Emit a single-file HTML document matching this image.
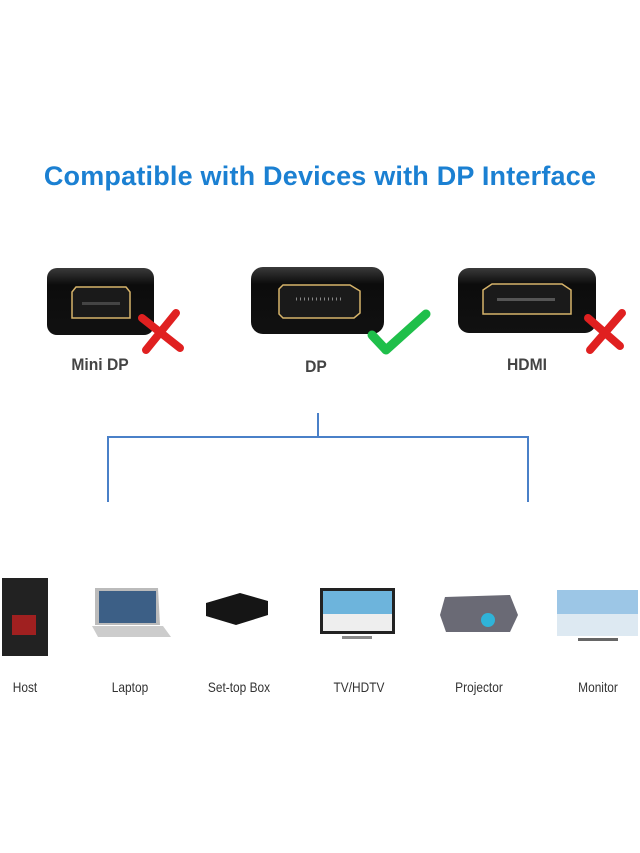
<!DOCTYPE html>
<html><head><meta charset="utf-8"><style>
body{margin:0;width:640px;height:853px;background:#fff;position:relative;overflow:hidden;font-family:"Liberation Sans",sans-serif}
.a{position:absolute}
.t{left:0;width:640px;top:161px;text-align:center;color:#1b80d2;font-weight:bold;font-size:27px;letter-spacing:0.2px}
.lb{font-weight:bold;font-size:17px;color:#444;text-align:center;transform:scaleX(0.92)}
.dl{font-size:14px;color:#333;text-align:center;width:100px;top:679px;transform:scaleX(0.85)}
</style></head><body>
<div class="a t">Compatible with Devices with DP Interface</div>
<svg class="a" style="left:0;top:0" width="640" height="853">
<defs><linearGradient id="g" x1="0" y1="0" x2="0" y2="1"><stop offset="0" stop-color="#3a3a3a"/><stop offset=".25" stop-color="#0c0c0c"/><stop offset="1" stop-color="#111"/></linearGradient></defs>
<rect x="47" y="268" width="107" height="67" rx="10" fill="url(#g)"/>
<path d="M72 292 L76 287 L126 287 L130 292 L130 318 L72 318 Z" fill="#1a1a1a" stroke="#d6b36a" stroke-width="1.5"/>
<rect x="82" y="302" width="38" height="3" fill="#444"/>
<rect x="251" y="267" width="133" height="67" rx="12" fill="url(#g)"/>
<path d="M279 289 L283 285 L350 285 L360 291 L360 313 L354 318 L283 318 L279 314 Z" fill="#1a1a1a" stroke="#d6b36a" stroke-width="1.5"/>
<line x1="296" y1="299" x2="342" y2="299" stroke="#888" stroke-width="3" stroke-dasharray="1 3"/>
<rect x="458" y="268" width="138" height="65" rx="11" fill="url(#g)"/>
<path d="M483 290 L492 284 L562 284 L571 290 L571 314 L483 314 Z" fill="#1a1a1a" stroke="#d6b36a" stroke-width="1.5"/>
<rect x="497" y="298" width="58" height="3" fill="#555"/>
<path d="M142 318 L180 348 M176 313 L146 350" stroke="#e02020" stroke-width="8" stroke-linecap="round"/>
<path d="M588 318 L620 346 M622 313 L590 350" stroke="#e02020" stroke-width="8" stroke-linecap="round"/>
<path d="M372 335 L386 350 L426 314" fill="none" stroke="#1fbf4a" stroke-width="9" stroke-linecap="round" stroke-linejoin="round"/>
<path d="M318 413 V437 M108 502 V437 H528 V502" fill="none" stroke="#4a80c8" stroke-width="2"/>
<rect x="2" y="578" width="46" height="78" fill="#222"/><rect x="12" y="615" width="24" height="20" fill="#a02020"/>
<path d="M95 588 H158 L160 625 H95 Z" fill="#bbb"/><rect x="99" y="591" width="57" height="32" fill="#3c5f86"/>
<path d="M92 626 H163 L171 637 H98 Z" fill="#ccc"/>
<path d="M206 603 L240 593 L268 601 L268 615 L236 625 L206 616 Z" fill="#151515"/>
<rect x="320" y="588" width="75" height="46" fill="#222"/><rect x="323" y="591" width="69" height="40" fill="#6db4dc"/><rect x="323" y="614" width="69" height="17" fill="#eee"/>
<rect x="342" y="636" width="30" height="3" fill="#888"/>
<path d="M445 597 L510 595 L518 615 L510 632 L446 632 L440 615 Z" fill="#6a6a75"/><circle cx="488" cy="620" r="7" fill="#2fb3d8"/>
<rect x="557" y="590" width="81" height="46" fill="#9cc6e6"/><rect x="557" y="614" width="81" height="22" fill="#dde9f2"/>
<rect x="578" y="638" width="40" height="3" fill="#666"/>
</svg>
<div class="a lb" style="left:50px;width:100px;top:355px">Mini DP</div>
<div class="a lb" style="left:266px;width:100px;top:357px">DP</div>
<div class="a lb" style="left:477px;width:100px;top:355px">HDMI</div>
<div class="a dl" style="left:-25px">Host</div>
<div class="a dl" style="left:80px">Laptop</div>
<div class="a dl" style="left:189px">Set-top Box</div>
<div class="a dl" style="left:309px">TV/HDTV</div>
<div class="a dl" style="left:429px">Projector</div>
<div class="a dl" style="left:548px">Monitor</div>
</body></html>
